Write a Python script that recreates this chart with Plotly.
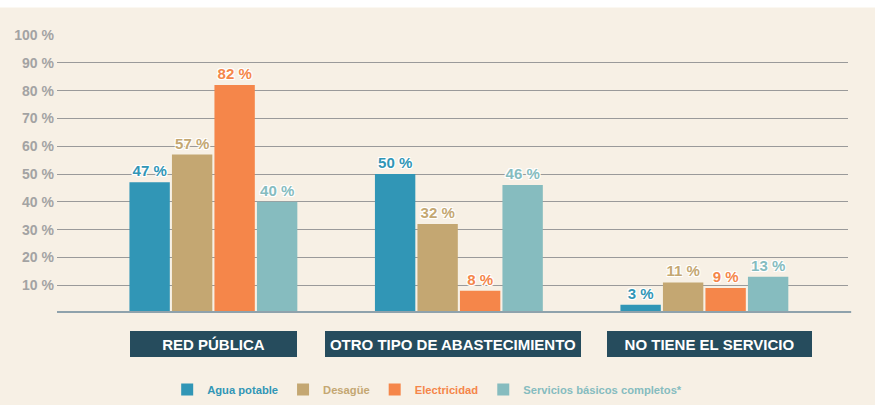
import plotly.graph_objects as go

categories = ["RED PÚBLICA", "OTRO TIPO DE ABASTECIMIENTO", "NO TIENE EL SERVICIO"]
series_names = ["Agua potable", "Desagüe", "Electricidad", "Servicios básicos completos*"]
agua = [47, 50, 3]
desague = [57, 32, 11]
electricidad = [82, 8, 9]
servicios = [40, 46, 13]
y_ticks = [10, 20, 30, 40, 50, 60, 70, 80, 90, 100]
y_tick_labels = ["10 %", "20 %", "30 %", "40 %", "50 %", "60 %", "70 %", "80 %", "90 %", "100 %"]

colors = ["#3196b6", "#c4a772", "#f5864a", "#86bcbf"]
BG = "#f7f0e5"
FONT = "Liberation Sans, Arial, sans-serif"

fig = go.Figure()
for name, vals, col in zip(series_names, [agua, desague, electricidad, servicios], colors):
    fig.add_trace(go.Bar(
        x=categories, y=vals,
        name=f"<span style='color:{col}'>{name}</span>",
        marker=dict(color=col, line=dict(width=0)),
        text=[f"{v} %" for v in vals],
        textposition="outside",
        textfont=dict(color=col, size=15, family=FONT, weight="bold",
                      shadow="1px 1px 0px #fff, -1px -1px 0px #fff, 1px -1px 0px #fff, -1px 1px 0px #fff"),
        cliponaxis=False,
        hoverinfo="skip",
    ))

box_widths = [163, 252, 201]
box_shifts = [0, -6, 5]
for cat, w, sh in zip(categories, box_widths, box_shifts):
    fig.add_annotation(
        x=cat, xref="x", y=-0.113, yref="paper", yanchor="middle",
        text=f"<b>{cat}</b>", showarrow=False, xshift=sh,
        font=dict(color="#ffffff", size=15, family=FONT),
        bgcolor="#264c5d", bordercolor="#264c5d", borderwidth=0, borderpad=2,
        width=w, height=22, align="center",
    )

# white strip at the very top of the page
fig.add_shape(type="rect", xref="paper", yref="paper", x0=-0.2, x1=1.2,
              y0=1.0986, y1=1.2, fillcolor="#ffffff", line=dict(width=0), layer="below")
# baseline
fig.add_shape(type="line", xref="paper", yref="y", x0=0, x1=1.004, y0=0, y1=0,
              line=dict(color="#8fa2ac", width=4), layer="above")

fig.update_layout(
    width=875, height=405,
    margin=dict(l=57, r=27, t=34.5, b=91.5, autoexpand=False),
    paper_bgcolor=BG, plot_bgcolor="rgba(0,0,0,0)",
    barmode="group", bargap=0.3075, bargroupgap=0.05,
    font=dict(family=FONT),
    showlegend=True,
    legend=dict(orientation="h", x=0.468, xanchor="center",
                yref="container", y=0.038, yanchor="middle",
                font=dict(size=11.2, family=FONT, weight="bold"), bgcolor="rgba(0,0,0,0)"),
    xaxis=dict(showticklabels=False, showgrid=False, zeroline=False, showline=False,
               range=[-0.637, 2.585], fixedrange=True),
    yaxis=dict(range=[0, 100], tickvals=y_ticks, ticktext=y_tick_labels,
               showgrid=True, gridcolor="#9a9a9a", gridwidth=1,
               zeroline=False, showline=False, ticks="", fixedrange=True,
               tickfont=dict(size=14, color="#a3a3a3", family=FONT, weight="bold"),
               ticklabelstandoff=2),
)

fig.write_html("out.html", config={"displayModeBar": False},
               post_script="document.body.style.margin='0';document.body.style.overflow='hidden';")
